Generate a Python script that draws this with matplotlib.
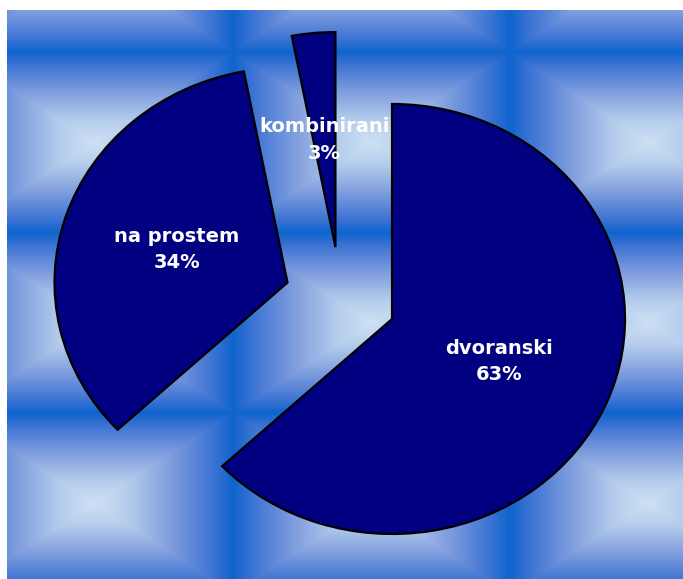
import numpy as np
import matplotlib
matplotlib.use("Agg")
import matplotlib.pyplot as plt

# Data
categories = ["dvoranski", "na prostem", "kombinirani"]
shares = [63, 34, 3]
labels = [f"{c}\n{v}%" for c, v in zip(categories, shares)]

W, H = 683, 579
fig = plt.figure(figsize=(W / 100, H / 100), dpi=100, facecolor="white")

# Tiled rectangular-gradient backdrop (light centres, deep-blue seams)
x0, y0 = 7, 10
xs = np.arange(x0, W) + 0.5
ys = np.arange(y0, H) + 0.5
X, Y = np.meshgrid(xs, ys)
px, py = 277.0, 180.5
u = np.mod(X - 233.0, px) / px
v = np.mod(Y - 52.0, py) / py
t = np.maximum(np.abs(u - 0.5) * 2, np.abs(v - 0.5) * 2)

stops = np.array([0.0, 0.25, 0.55, 0.85, 1.0])
stop_cols = np.array([
    [206, 225, 244],
    [180, 204, 236],
    [128, 158, 222],
    [62, 116, 212],
    [14, 100, 205],
]) / 255.0
img = np.stack([np.interp(t, stops, stop_cols[:, k]) for k in range(3)], axis=-1)

bg = fig.add_axes([x0 / W, 0, (W - x0) / W, (H - y0) / H])
bg.imshow(img, aspect="auto", interpolation="bilinear")
bg.axis("off")

# Exploded pie, drawn on a full-figure axes with unequal x/y scaling
ax = fig.add_axes([0, 0, 1, 1])
ax.patch.set_alpha(0)
ax.pie(
    shares,
    labels=labels,
    colors=["#000080"] * len(shares),
    startangle=90,
    counterclock=False,
    explode=[0.24] * len(shares),
    labeldistance=0.5,
    wedgeprops=dict(edgecolor="black", linewidth=1.6),
    textprops=dict(color="white", fontsize=14, fontweight="bold",
                   family="DejaVu Sans", ha="center", va="center",
                   linespacing=1.5),
)
ax.set_aspect("auto")
cx, cy = 340.7, 298.5
rx, ry = 233.0, 215.0
ax.set_xlim(-cx / rx, (W - cx) / rx)
ax.set_ylim(-(H - cy) / ry, cy / ry)
ax.axis("off")

fig.savefig("out.png", dpi=100, facecolor="white")
